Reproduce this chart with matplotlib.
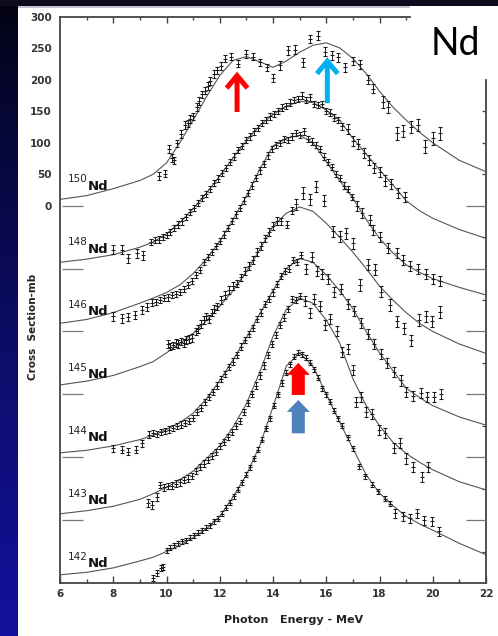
import matplotlib
matplotlib.use("Agg")
import matplotlib.pyplot as plt
import numpy as np
from matplotlib.patches import FancyArrowPatch, ArrowStyle, Rectangle

# photon energy grid of the fitted curves (MeV)
E_FIT = [6, 7, 8, 9, 9.5, 10, 10.5, 11, 11.5, 12, 12.5, 13, 13.5, 14, 14.5,
         15, 15.5, 16, 16.5, 17, 17.5, 18, 18.5, 19, 19.5, 20, 21, 22]

# fitted curves, cross section in mb (each isotope on its own zero line)
FIT_150 = [10, 16, 27, 40, 50, 68, 100, 136, 173, 207, 231, 237, 229, 220, 230,
           244, 255, 259, 251, 234, 210, 182, 157, 136, 117, 100, 72, 54]
FIT_148 = [10, 15, 22, 34, 42, 55, 73, 95, 120, 147, 176, 203, 227, 245, 258,
           266, 264, 252, 236, 207, 182, 157, 133, 108, 92, 80, 62, 48]
FIT_146 = [13, 19, 30, 45, 53, 62, 74, 92, 115, 143, 178, 215, 258, 295, 307,
           312, 300, 270, 240, 212, 178, 148, 125, 106, 94, 84, 70, 58]
FIT_145 = [15, 21, 30, 44, 52, 66, 81, 97, 117, 140, 165, 195, 230, 267, 288,
           298, 291, 272, 250, 226, 200, 172, 150, 130, 113, 100, 80, 65]
FIT_144 = [7, 11, 18, 28, 35, 44, 55, 70, 93, 122, 155, 190, 228, 265, 300,
           316, 310, 290, 265, 236, 200, 166, 138, 110, 95, 82, 64, 51]
FIT_143 = [10, 15, 22, 33, 42, 52, 64, 78, 98, 118, 148, 185, 235, 292, 335,
           353, 345, 318, 282, 225, 182, 150, 124, 106, 92, 80, 61, 48]
FIT_142 = [13, 17, 24, 35, 41, 50, 60, 72, 86, 106, 137, 172, 218, 280, 345,
           366, 345, 300, 256, 214, 172, 143, 123, 106, 94, 84, 63, 45]

# measured points: energy, cross section, error (mb)
E_150 = [9.7, 9.95, 10.1, 10.2, 10.3, 10.4, 10.55, 10.68, 10.8, 10.9,
         11.0, 11.13, 11.22, 11.33, 11.45, 11.55, 11.65, 11.78, 11.9, 12.05,
         12.2, 12.42, 12.67, 12.98, 13.24, 13.5, 13.77, 14.0, 14.25, 14.56,
         14.81, 15.13, 15.38, 15.69, 15.94, 16.2, 16.45, 16.7, 17.01, 17.26,
         17.57, 17.76, 18.14, 18.33, 18.67, 18.9, 19.2, 19.45, 19.7, 20.0, 20.28]
S_150 = [47, 51, 90, 76, 72, 99, 114, 128, 131, 138,
         142, 157, 166, 177, 183, 190, 198, 209, 215, 222,
         234, 237, 226, 241, 237, 228, 220, 203, 223, 247,
         248, 228, 265, 270, 245, 239, 236, 220, 230, 225,
         200, 186, 165, 157, 115, 119, 125, 128, 94, 107, 115]
ERR_150 = [6] * 27 + [7] * 15 + [10] * 9

E_148 = [8.0, 8.32, 8.57, 8.88, 9.13,
         9.4, 9.55, 9.7, 9.85, 10.0, 10.15, 10.3, 10.45, 10.6, 10.75,
         10.9, 11.05, 11.2, 11.35, 11.5, 11.65, 11.8, 11.95, 12.1, 12.25,
         12.4, 12.55, 12.7, 12.85, 13.0, 13.15, 13.3, 13.45, 13.6, 13.75,
         13.9, 14.05, 14.2, 14.35, 14.5, 14.65, 14.8, 14.95, 15.1, 15.25,
         15.4, 15.55, 15.7, 15.85, 16.0, 16.15, 16.3, 16.45, 16.6,
         16.8, 17.0, 17.2, 17.4, 17.6, 17.8, 18.0, 18.2, 18.45, 18.7, 18.95]
S_148 = [30, 30, 16, 24, 21,
         42, 45, 46, 50, 53, 58, 64, 70, 75, 82,
         90, 96, 104, 112, 118, 126, 136, 143, 152, 160,
         170, 178, 188, 195, 204, 210, 218, 224, 232, 236,
         242, 246, 250, 256, 258, 264, 268, 270, 275, 268,
         272, 262, 260, 262, 250, 248, 240, 236, 226,
         222, 203, 198, 184, 172, 160, 154, 140, 134, 120, 114]
ERR_148 = [7] * 5 + [5] * 49 + [8] * 11

E_146 = [8.0, 8.32, 8.57, 8.82, 9.07, 9.26,
         9.45, 9.6, 9.75, 9.9, 10.05, 10.2, 10.35, 10.5, 10.65, 10.8,
         10.95, 11.1, 11.25, 11.4, 11.55, 11.7, 11.85, 12.0, 12.15, 12.3,
         12.45, 12.6, 12.75, 12.9, 13.05, 13.2, 13.35, 13.5, 13.65, 13.8,
         13.95, 14.1, 14.25, 14.4, 14.55, 14.7, 14.85, 15.0, 15.15, 15.3,
         15.45, 15.6, 15.75, 15.9, 16.05, 16.2, 16.35, 16.5, 16.65, 16.8, 16.95,
         17.15, 17.35, 17.64, 17.76, 18.0, 18.33, 18.64, 18.89, 19.14, 19.45,
         19.76, 20.0, 20.26]
S_146 = [24, 21, 23, 26, 34, 39,
         46, 47, 50, 53, 54, 58, 60, 63, 68, 74,
         80, 90, 98, 110, 118, 126, 136, 144, 154, 164,
         176, 186, 196, 208, 220, 232, 244, 256, 266, 280,
         290, 296, 300, 306, 304, 310, 316, 312, 318, 306,
         302, 296, 290, 278, 270, 262, 250, 244, 232, 226, 214,
         200, 188, 177, 161, 150, 132, 124, 114, 104, 100,
         92, 84, 80]
ERR_146 = [7] * 6 + [5] * 51 + [8] * 13

E_145 = [10.05, 10.15, 10.25, 10.35, 10.45, 10.55, 10.65, 10.75, 10.85, 10.95,
         11.1, 11.2, 11.3, 11.4, 11.5, 11.6, 11.7, 11.8, 11.9, 12.05,
         12.2, 12.35, 12.5, 12.65, 12.8, 12.95, 13.1, 13.25, 13.4, 13.55,
         13.7, 13.85, 14.0, 14.15, 14.3, 14.52, 14.7,
         14.85, 15.13, 15.4, 15.63, 15.9, 16.26, 16.51, 16.76, 17.01, 17.26,
         17.57, 17.82, 18.07, 18.39, 18.64, 18.91, 19.2, 19.48, 19.74, 19.99, 20.26]
S_145 = [80, 76, 78, 82, 80, 84, 82, 86, 88, 90,
         100, 104, 112, 118, 124, 120, 130, 136, 140, 150,
         158, 166, 172, 176, 186, 196, 204, 214, 226, 236,
         248, 258, 268, 276, 275, 270, 292,
         302, 320, 310, 330, 308, 259, 251, 256, 240, 174,
         206, 198, 163, 142, 116, 105, 86, 118, 124, 116, 131]
ERR_145 = [6] * 37 + [9] * 21

E_144 = [8.0, 8.32, 8.57, 8.86, 9.07,
         9.35, 9.5, 9.65, 9.8, 9.95, 10.1, 10.25, 10.4, 10.55, 10.7,
         10.85, 11.0, 11.15, 11.3, 11.45, 11.6, 11.75, 11.9, 12.05, 12.2,
         12.35, 12.5, 12.65, 12.8, 12.95, 13.1, 13.25, 13.4, 13.55, 13.7,
         13.85, 14.0, 14.15, 14.3, 14.45, 14.6, 14.75, 14.9, 15.05,
         15.25, 15.45, 15.65, 15.85, 16.05, 16.3, 16.55, 16.8, 17.05, 17.3,
         17.55, 17.8, 18.05, 18.3, 18.55, 18.8, 19.0, 19.27, 19.55, 19.8,
         20.05, 20.3]
S_144 = [14, 12, 9, 12, 22,
         36, 38, 37, 40, 42, 44, 46, 50, 52, 54,
         58, 62, 72, 78, 88, 96, 104, 114, 124, 132,
         144, 152, 162, 176, 186, 196, 206, 220, 230, 244,
         252, 262, 276, 288, 296, 300, 314, 310, 322,
         300, 318, 296, 292, 284, 262, 268, 244, 232, 214,
         196, 180, 164, 150, 136, 122, 104, 98, 102, 96,
         96, 100]
ERR_144 = [6] * 5 + [5] * 39 + [8] * 22

E_143 = [9.32, 9.45, 9.63,
         9.76, 9.9, 10.05, 10.2, 10.35, 10.5, 10.65, 10.8, 10.95, 11.1,
         11.25, 11.4, 11.55, 11.7, 11.85, 12.0, 12.15, 12.3, 12.45, 12.6,
         12.75, 12.9, 13.05, 13.2, 13.35, 13.5, 13.65, 13.8, 13.95, 14.1,
         14.25, 14.4, 14.55, 14.7, 14.85, 15.0,
         15.2, 15.4, 15.55, 15.75, 15.95, 16.15, 16.4, 16.6, 16.8, 17.0,
         17.13, 17.3, 17.5, 17.7, 17.97, 18.2, 18.53, 18.78, 19.0, 19.27,
         19.58, 19.83]
S_143 = [27, 24, 37,
         56, 52, 54, 55, 58, 60, 64, 66, 70, 78,
         84, 90, 96, 102, 108, 118, 124, 132, 140, 150,
         158, 172, 186, 200, 214, 230, 246, 262, 280, 294,
         310, 322, 336, 352, 350, 356,
         348, 330, 352, 340, 310, 320, 300, 268, 272, 238,
         188, 196, 172, 168, 143, 138, 114, 122, 98, 85,
         69, 85]
ERR_143 = [6] * 3 + [5] * 36 + [8] * 22

E_142 = [9.5, 9.63, 9.8, 9.88,
         10.0, 10.15, 10.3, 10.45, 10.6, 10.75, 10.9, 11.05, 11.2, 11.35,
         11.5, 11.65, 11.8, 11.95, 12.1, 12.25, 12.4, 12.55, 12.7, 12.85,
         13.0, 13.15, 13.3, 13.45, 13.6, 13.75, 13.9, 14.05, 14.2, 14.35,
         14.5, 14.65, 14.8, 14.95, 15.1, 15.25, 15.4, 15.55, 15.7, 15.85,
         16.0, 16.15, 16.3, 16.45, 16.6, 16.8, 17.0, 17.22, 17.45, 17.7,
         17.95, 18.2, 18.4,
         18.6, 18.9, 19.16, 19.41, 19.66, 19.98, 20.24]
S_142 = [8, 16, 24, 26,
         52, 56, 60, 63, 66, 68, 72, 76, 80, 84,
         88, 92, 98, 102, 110, 120, 128, 138, 148, 160,
         172, 184, 198, 212, 228, 246, 262, 282, 300, 318,
         334, 348, 360, 366, 364, 358, 350, 340, 326, 310,
         300, 288, 274, 262, 250, 232, 214, 186, 170, 156,
         146, 134, 126,
         111, 106, 103, 111, 100, 98, 82]
ERR_142 = [5] * 4 + [4] * 53 + [7] * 7

ISOTOPES = ["150", "148", "146", "145", "144", "143", "142"]
FITS = [FIT_150, FIT_148, FIT_146, FIT_145, FIT_144, FIT_143, FIT_142]
POINTS = [(E_150, S_150, ERR_150), (E_148, S_148, ERR_148),
          (E_146, S_146, ERR_146), (E_145, S_145, ERR_145),
          (E_144, S_144, ERR_144), (E_143, S_143, ERR_143),
          (E_142, S_142, ERR_142)]
STEP = 100  # vertical shift between isotopes (mb)

fig = plt.figure(figsize=(4.98, 6.36), dpi=100)
fig.patch.set_facecolor("white")

# slide background: dark gradient strip on the left and dark bar on top
bg = fig.add_axes([0, 0, 1, 1])
bg.set_xlim(0, 498)
bg.set_ylim(636, 0)
bg.axis("off")
top_col = np.array([0.01, 0.01, 0.06])
bot_col = np.array([0.07, 0.07, 0.62])
t = np.linspace(0, 1, 256)[:, None]
grad = (top_col + (bot_col - top_col) * t ** 0.8)[:, None, :]
bg.imshow(grad, extent=[0, 18, 636, 0], aspect="auto")
bg.add_patch(Rectangle((0, 0), 498, 6, color="#0c0c1c", lw=0))
bg.add_patch(Rectangle((18, 6), 392, 2, color="#c4c4cc", lw=0))

ax = fig.add_axes([60 / 498, 53 / 636, 426 / 498, 566 / 636])
ax.set_xlim(6, 22)
ax.set_ylim(-600, 300)

spine_col = "#444444"
for side in ["top", "right"]:
    ax.spines[side].set_visible(False)
for side in ["left", "bottom"]:
    ax.spines[side].set_color(spine_col)
    ax.spines[side].set_linewidth(1.3)

# partial top and right frame, as in the scanned figure
ax.plot([6, 19.15], [300, 300], color=spine_col, lw=1.3, clip_on=False)
ax.vlines(range(7, 20), 300 - np.where(np.arange(7, 20) % 2 == 0, 9, 5), 300,
          color=spine_col, lw=1)
ax.plot([22, 22], [200, -600], color=spine_col, lw=1.3, clip_on=False)
ax.hlines([150, 100, 50, -50, -150, -250, -350, -450, -550], 21.85, 22,
          color=spine_col, lw=0.9)
zero_levels = [-STEP * i for i in range(6)]
ax.hlines(zero_levels, 21.25, 22, color="#777777", lw=0.9)
ax.hlines(zero_levels, 6.08, 6.86, color="#777777", lw=0.9)

ax.set_xticks(range(6, 23, 2))
ax.set_xticks(range(7, 22, 2), minor=True)
ax.set_yticks(range(0, 301, 50))
ax.tick_params(axis="x", which="major", direction="in", length=5, width=1,
               color=spine_col, labelsize=7.5, pad=4, labelcolor="#333333")
ax.tick_params(axis="x", which="minor", direction="in", length=3, width=1,
               color=spine_col)
ax.tick_params(axis="y", length=0, pad=6, labelsize=7.5, labelcolor="#333333")
for lab in ax.get_xticklabels() + ax.get_yticklabels():
    lab.set_fontweight("bold")

for i, (iso, fit, (pe, ps, perr)) in enumerate(zip(ISOTOPES, FITS, POINTS)):
    off = -STEP * i
    ax.plot(E_FIT, np.array(fit) + off, color="#555555", lw=0.8, zorder=2)
    ax.errorbar(pe, np.array(ps) + off, yerr=perr, fmt="_", ms=2.5, mew=0.8,
                color="#1a1a1a", ecolor="#1a1a1a", elinewidth=0.7,
                capsize=1.1, capthick=0.7, zorder=3)
    ax.text(6.3, off + 42, iso, fontsize=7.5, color="#222222",
            ha="left", va="center")
    ax.text(7.06, off + 31, "Nd", fontsize=9.5, fontweight="bold",
            color="#111111", ha="left", va="center")

# highlighted peaks
def line_arrow(x, y0, y1, color):
    ax.add_patch(FancyArrowPatch((x, y0), (x, y1),
                                 arrowstyle=ArrowStyle("->", head_length=0.9,
                                                       head_width=0.75),
                                 mutation_scale=10, lw=3.6, color=color,
                                 shrinkA=0, shrinkB=0, joinstyle="miter",
                                 capstyle="butt", zorder=5))


def block_arrow(x, y0, y1, color):
    ax.add_patch(FancyArrowPatch((x, y0), (x, y1),
                                 arrowstyle="simple,head_length=0.86,"
                                            "head_width=1.66,tail_width=0.94",
                                 mutation_scale=10, color=color, lw=0,
                                 shrinkA=0, shrinkB=0, zorder=5))


line_arrow(12.65, 149, 213, "#ff0000")
line_arrow(16.04, 163, 236, "#00b0f0")
block_arrow(14.95, -301, -250, "#ff0000")
block_arrow(14.95, -362, -309, "#4f81bd")

fig.text(33 / 498, 1 - 327 / 636, "Cross  Section-mb", rotation=90,
         fontsize=7.5, fontweight="bold", color="#222222",
         ha="center", va="center")
fig.text(294 / 498, 1 - 620 / 636, "Photon   Energy - MeV", fontsize=8,
         fontweight="bold", color="#222222", ha="center", va="center")
fig.text(455 / 498, 1 - 44 / 636, "Nd", fontsize=27,
         family=["Lato", "DejaVu Sans"], color="black",
         ha="center", va="center")

fig.savefig("out.png", dpi=100)
